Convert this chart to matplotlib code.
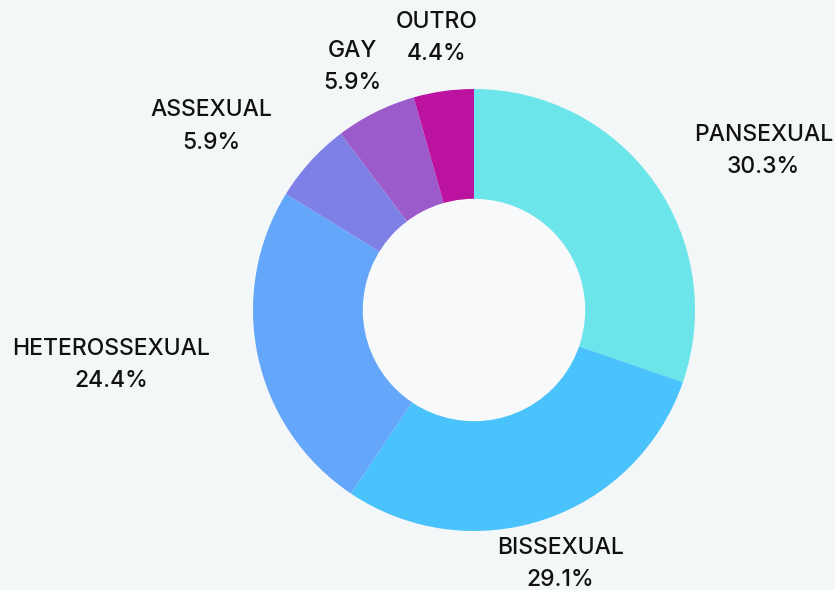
import numpy as np
import matplotlib.pyplot as plt

categories = ['PANSEXUAL', 'BISSEXUAL', 'HETEROSSEXUAL', 'ASSEXUAL', 'GAY', 'OUTRO']
values = [30.3, 29.1, 24.4, 5.9, 5.9, 4.4]
colors = ['#6be5e9', '#4ac3fd', '#64a6f9', '#7e80e6', '#9c5bcb', '#bb139f']

# label centres, in units of the outer radius (layout only)
label_pos = [(1.31, 0.72), (0.39, -1.15), (-1.64, -0.25),
             (-1.19, 0.83), (-0.55, 1.10), (-0.17, 1.23)]

bg = '#f3f7f8'
plt.rcParams['font.family'] = ['Inter', 'DejaVu Sans']

fig = plt.figure(figsize=(8.35, 5.9), dpi=100, facecolor=bg)
ax = fig.add_axes([253 / 835, 59 / 590, 442 / 835, 442 / 590])
ax.set_facecolor(bg)

wedges, _ = ax.pie(values, colors=colors, startangle=90, counterclock=False,
                   radius=1.0, wedgeprops=dict(width=0.5, linewidth=0))
ax.add_patch(plt.Circle((0, 0), 0.5, color='#f7f9fa', zorder=3))

for name, v, (x, y) in zip(categories, values, label_pos):
    ax.text(x, y, f'{name}\n{v:.1f}%', ha='center', va='center',
            fontsize=16.5, fontweight='medium', color='#111111',
            linespacing=1.6, clip_on=False)

ax.set_xlim(-1, 1)
ax.set_ylim(-1, 1)
ax.set_aspect('equal')
ax.axis('off')

fig.savefig('out.png', dpi=100, facecolor=bg)
